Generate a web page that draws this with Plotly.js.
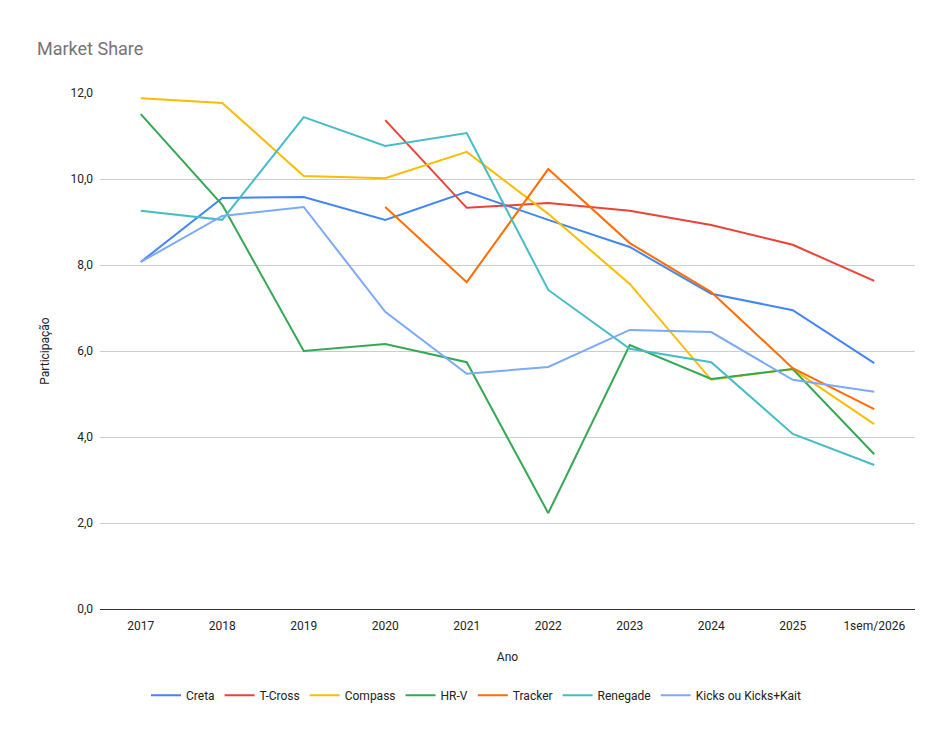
<!DOCTYPE html>
<html>
<head>
<meta charset="utf-8">
<script src="https://cdn.plot.ly/plotly-3.0.1.min.js"></script>
<style>
  body { margin: 0; background: #fff; }
  #chart { width: 952px; height: 740px; }
</style>
</head>
<body>
<div id="chart"></div>
<script>
var anos = ['2017', '2018', '2019', '2020', '2021', '2022', '2023', '2024', '2025', '1sem/2026'];

var creta = [8.07, 9.56, 9.58, 9.05, 9.70, 9.05, 8.42, 7.33, 6.95, 5.72];
var tcross = [null, null, null, 11.37, 9.33, 9.44, 9.26, 8.93, 8.47, 7.63];
var compass = [11.88, 11.77, 10.07, 10.02, 10.63, 9.19, 7.56, 5.33, 5.58, 4.30];
var hrv = [11.51, 9.40, 6.00, 6.16, 5.74, 2.23, 6.14, 5.35, 5.58, 3.60];
var tracker = [null, null, null, 9.35, 7.60, 10.23, 8.51, 7.37, 5.60, 4.65];
var renegade = [9.26, 9.05, 11.44, 10.77, 11.07, 7.42, 6.05, 5.74, 4.07, 3.35];
var kicks = [8.07, 9.14, 9.35, 6.91, 5.47, 5.63, 6.49, 6.44, 5.33, 5.05];

var series = [
  { name: 'Creta', y: creta, color: '#4285F4' },
  { name: 'T-Cross', y: tcross, color: '#EA4335' },
  { name: 'Compass', y: compass, color: '#FBBC04' },
  { name: 'HR-V', y: hrv, color: '#34A853' },
  { name: 'Tracker', y: tracker, color: '#FF6D01' },
  { name: 'Renegade', y: renegade, color: '#46BDC6' },
  { name: 'Kicks ou Kicks+Kait', y: kicks, color: '#7BAAF7' }
];

var data = series.map(function (s) {
  return {
    x: anos,
    y: s.y,
    name: s.name,
    type: 'scatter',
    mode: 'lines',
    line: { color: s.color, width: 2 },
    hoverinfo: 'x+y+name'
  };
});

var layout = {
  width: 952,
  height: 740,
  paper_bgcolor: '#fff',
  plot_bgcolor: '#fff',
  font: { family: 'Roboto, Arial, sans-serif', size: 12, color: '#222' },
  separators: ',.',
  margin: { l: 100, r: 37, t: 93, b: 131 },
  title: {
    text: 'Market Share',
    x: 37 / 952, xref: 'container', xanchor: 'left',
    y: 1 - 49 / 740, yref: 'container', yanchor: 'middle',
    font: { family: 'Roboto, Arial, sans-serif', size: 18, color: '#757575' }
  },
  xaxis: {
    type: 'category',
    range: [-0.5, 9.5],
    showgrid: false,
    ticks: '',
    ticklabelstandoff: 8,
    tickfont: { size: 12, color: '#222' },
    title: { text: 'Ano', standoff: 20, font: { size: 12, color: '#222' } },
    automargin: false
  },
  yaxis: {
    range: [0, 12],
    dtick: 2,
    tickformat: '.1f',
    showgrid: true,
    gridcolor: '#cccccc',
    zeroline: true,
    zerolinecolor: '#333333',
    zerolinewidth: 1,
    ticks: '',
    ticklabelstandoff: 6,
    tickfont: { size: 12, color: '#222' },
    title: { text: 'Participação', standoff: 18, font: { size: 12, color: '#222' } },
    automargin: false
  },
  showlegend: true,
  legend: {
    orientation: 'h',
    x: (476 - 100) / 815, xanchor: 'center',
    y: -0.167, yanchor: 'middle',
    font: { size: 12, color: '#222' },
    itemwidth: 30
  }
};

Plotly.newPlot('chart', data, layout, { displayModeBar: false });
</script>
</body>
</html>
